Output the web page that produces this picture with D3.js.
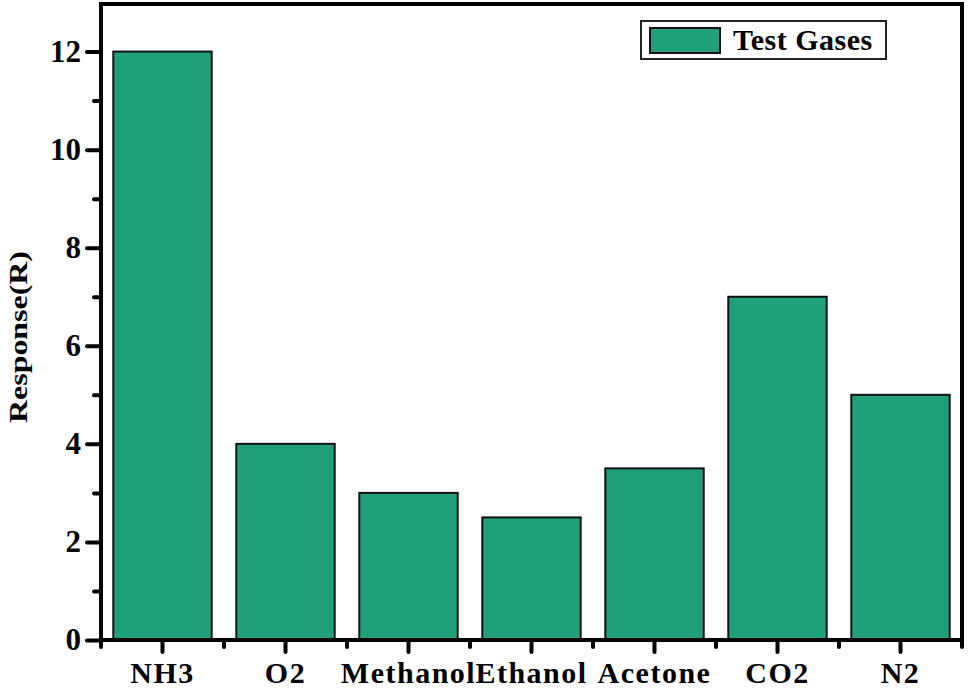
<!DOCTYPE html>
<html>
<head>
<meta charset="utf-8">
<script src="https://cdn.jsdelivr.net/npm/d3@7"></script>
<style>
  html, body { margin: 0; padding: 0; background: #fff; }
  svg { display: block; }
  text { font-family: "Liberation Serif", "Times New Roman", serif; font-weight: bold; fill: #000; }
</style>
</head>
<body>
<script>
const categories = ["NH3", "O2", "Methanol", "Ethanol", "Acetone", "CO2", "N2"];
const responses = [12, 4, 3, 2.5, 3.5, 7, 5];
const yMajorTicks = [0, 2, 4, 6, 8, 10, 12];
const yMinorTicks = [1, 3, 5, 7, 9, 11];
const seriesName = "Test Gases";
const yTitle = "Response(R)";

const W = 969, H = 688;
const mLeft = 101, mRight = 962, mTop = 4, mBottom = 640;
const barColor = "#1fa07a";

const svg = d3.select("body").append("svg").attr("width", W).attr("height", H);

const x = d3.scaleBand().domain(categories).range([mLeft, mRight]).paddingInner(0.2).paddingOuter(0.1);
const y = d3.scaleLinear().domain([0, 12.97]).range([mBottom, mTop]);

// bars
svg.append("g").selectAll("rect").data(categories).join("rect")
  .attr("x", d => x(d))
  .attr("y", (d, i) => y(responses[i]))
  .attr("width", x.bandwidth())
  .attr("height", (d, i) => y(0) - y(responses[i]))
  .attr("fill", barColor)
  .attr("stroke", "#111")
  .attr("stroke-width", 2);

// frame
svg.append("rect").attr("x", mLeft).attr("y", mTop).attr("width", mRight - mLeft).attr("height", mBottom - mTop)
  .attr("fill", "none").attr("stroke", "#000").attr("stroke-width", 4);

// Y axis major
const yAxis = d3.axisLeft(y).tickValues(yMajorTicks).tickSize(14).tickPadding(6).tickFormat(d3.format("d"));
const gy = svg.append("g").attr("transform", `translate(${mLeft},0)`).call(yAxis);
gy.select(".domain").remove();
gy.selectAll(".tick line").attr("stroke", "#000").attr("stroke-width", 4).attr("stroke-linecap", "round");
gy.selectAll(".tick text").attr("font-size", 31).attr("font-family", "Liberation Serif").attr("font-weight", "bold").attr("fill", "#000");

// Y axis minor
const gym = svg.append("g").attr("transform", `translate(${mLeft},0)`)
  .call(d3.axisLeft(y).tickValues(yMinorTicks).tickSize(7).tickFormat(""));
gym.select(".domain").remove();
gym.selectAll(".tick line").attr("stroke", "#000").attr("stroke-width", 4).attr("stroke-linecap", "round");

// X axis major
const gx = svg.append("g").attr("transform", `translate(0,${mBottom})`)
  .call(d3.axisBottom(x).tickSize(12).tickPadding(10));
gx.select(".domain").remove();
gx.selectAll(".tick line").attr("stroke", "#000").attr("stroke-width", 4).attr("stroke-linecap", "round");
gx.selectAll(".tick text").attr("font-size", 30).attr("font-family", "Liberation Serif").attr("font-weight", "bold").attr("fill", "#000").attr("letter-spacing", 1.5);

// X axis minor ticks at band boundaries
const boundaries = categories.map(c => x(c) - x.step() * x.paddingInner() / 2).concat([x(categories[categories.length - 1]) + x.bandwidth() + x.step() * x.paddingInner() / 2]);
svg.append("g").selectAll("line").data(boundaries).join("line")
  .attr("x1", d => d).attr("x2", d => d)
  .attr("y1", mBottom).attr("y2", mBottom + 7)
  .attr("stroke", "#000").attr("stroke-width", 4).attr("stroke-linecap", "round");

// Y title
svg.append("text")
  .attr("transform", `translate(27,337) rotate(-90)`)
  .attr("text-anchor", "middle")
  .attr("font-size", 26)
  .attr("textLength", 172)
  .attr("lengthAdjust", "spacingAndGlyphs")
  .text(yTitle);

// legend
const lg = svg.append("g");
lg.append("rect").attr("x", 641).attr("y", 21).attr("width", 245).attr("height", 38)
  .attr("fill", "#fff").attr("stroke", "#222").attr("stroke-width", 2);
lg.append("rect").attr("x", 650).attr("y", 28).attr("width", 70).attr("height", 25)
  .attr("fill", barColor).attr("stroke", "#111").attr("stroke-width", 2);
lg.append("text").attr("x", 733).attr("y", 50).attr("font-size", 30).attr("letter-spacing", 0.5).text(seriesName);
</script>
</body>
</html>
